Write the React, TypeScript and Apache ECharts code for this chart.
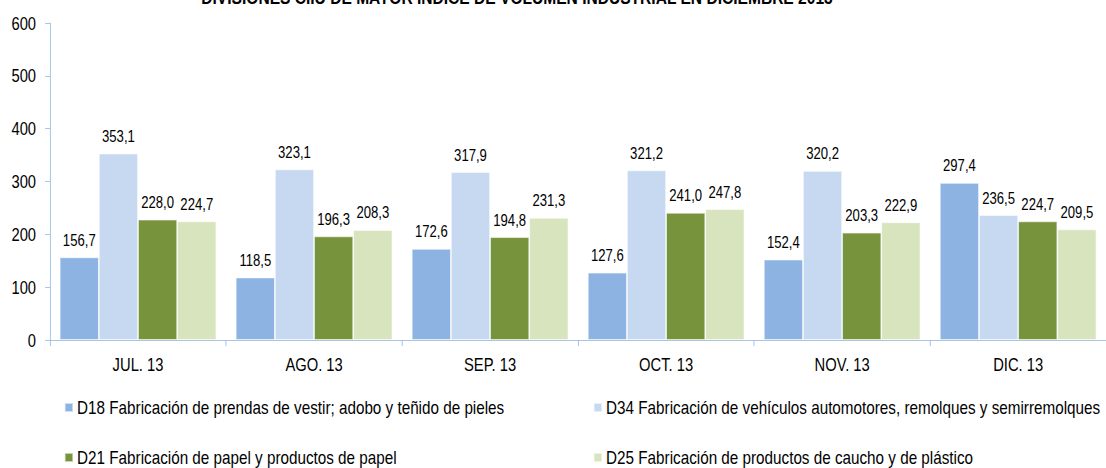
import React, { useEffect, useRef } from "react";
import * as echarts from "echarts";

const categories = ["JUL. 13", "AGO. 13", "SEP. 13", "OCT. 13", "NOV. 13", "DIC. 13"];
const seriesNames = [
  "D18 Fabricación de prendas de vestir; adobo y teñido de pieles",
  "D34 Fabricación de vehículos automotores, remolques y semirremolques",
  "D21 Fabricación de papel y productos de papel",
  "D25 Fabricación de productos de caucho y de plástico",
];
const d18 = [156.7, 118.5, 172.6, 127.6, 152.4, 297.4];
const d34 = [353.1, 323.1, 317.9, 321.2, 320.2, 236.5];
const d21 = [228.0, 196.3, 194.8, 241.0, 203.3, 224.7];
const d25 = [224.7, 208.3, 231.3, 247.8, 222.9, 209.5];
const colors = ["#8db3e2", "#c6d9f1", "#77933c", "#d7e4bd"];
const titleText = "DIVISIONES CIIU DE MAYOR ÍNDICE DE VOLUMEN INDUSTRIAL EN DICIEMBRE 2013";

const FONT = "'Liberation Sans', Arial, sans-serif";
const SX = 0.82; // horizontal condensation of the original (narrow) typeface
const W = 1106;
const H = 468;
const IW = W / SX;

export default function App() {
  const ref = useRef<HTMLDivElement>(null);
  useEffect(() => {
    if (!ref.current) return;
    const chart = echarts.init(ref.current, null, { renderer: "svg" });
    const values = [d18, d34, d21, d25];
    const legendPos = [
      { left: 64 / SX, top: 398 },
      { left: 593 / SX, top: 398 },
      { left: 64 / SX, top: 448 },
      { left: 593 / SX, top: 448 },
    ];
    const legendOrder = [0, 1, 2, 3];
    chart.setOption({
      animation: false,
      textStyle: { fontFamily: FONT },
      graphic: [
        {
          type: "text",
          x: 517 / SX,
          y: -12,
          style: {
            text: titleText,
            font: `bold 19px ${FONT}`,
            fill: "#000",
            textAlign: "center",
          },
        },
      ],
      grid: { left: 50 / SX, top: 23, width: 1060 / SX, height: 317, containLabel: false },
      legend: legendOrder.map((i) => ({
        data: [seriesNames[i]],
        left: legendPos[i].left,
        top: legendPos[i].top,
        itemWidth: 10,
        itemHeight: 9,
        icon: "rect",
        padding: 0,
        textStyle: { fontFamily: FONT, fontSize: 18.6, color: "#000" },
      })),
      xAxis: {
        type: "category",
        data: categories,
        axisLine: { lineStyle: { color: "#9fbfe5", width: 1 } },
        axisTick: { show: true, alignWithLabel: false, length: 6, lineStyle: { color: "#9fbfe5" } },
        axisLabel: { fontFamily: FONT, fontSize: 18, color: "#000", margin: 15 },
      },
      yAxis: {
        type: "value",
        min: 0,
        max: 600,
        interval: 100,
        axisLine: { show: true, lineStyle: { color: "#9fbfe5", width: 1 } },
        axisTick: { show: true, length: 6, lineStyle: { color: "#9fbfe5" } },
        splitLine: { show: false },
        axisLabel: { fontFamily: FONT, fontSize: 18, color: "#000", margin: 17 },
      },
      series: values.map((v, i) => ({
        name: seriesNames[i],
        type: "bar",
        data: v,
        barGap: "0%",
        barCategoryGap: "11%",
        itemStyle: { color: colors[i], borderColor: "rgba(255,255,255,0.6)", borderWidth: 1 },
        label: {
          show: true,
          position: "top",
          distance: 9,
          fontFamily: FONT,
          fontSize: 16,
          color: "#000",
          formatter: (p: any) => p.value.toFixed(1).replace(".", ","),
        },
      })),
    });
    return () => chart.dispose();
  }, []);
  return (
    <div
      style={{
        position: "fixed",
        left: 0,
        top: 0,
        width: W,
        height: H,
        overflow: "hidden",
        background: "#fff",
      }}
    >
      <div
        ref={ref}
        style={{
          width: IW,
          height: H,
          transform: `scaleX(${SX})`,
          transformOrigin: "0 0",
        }}
      />
    </div>
  );
}
